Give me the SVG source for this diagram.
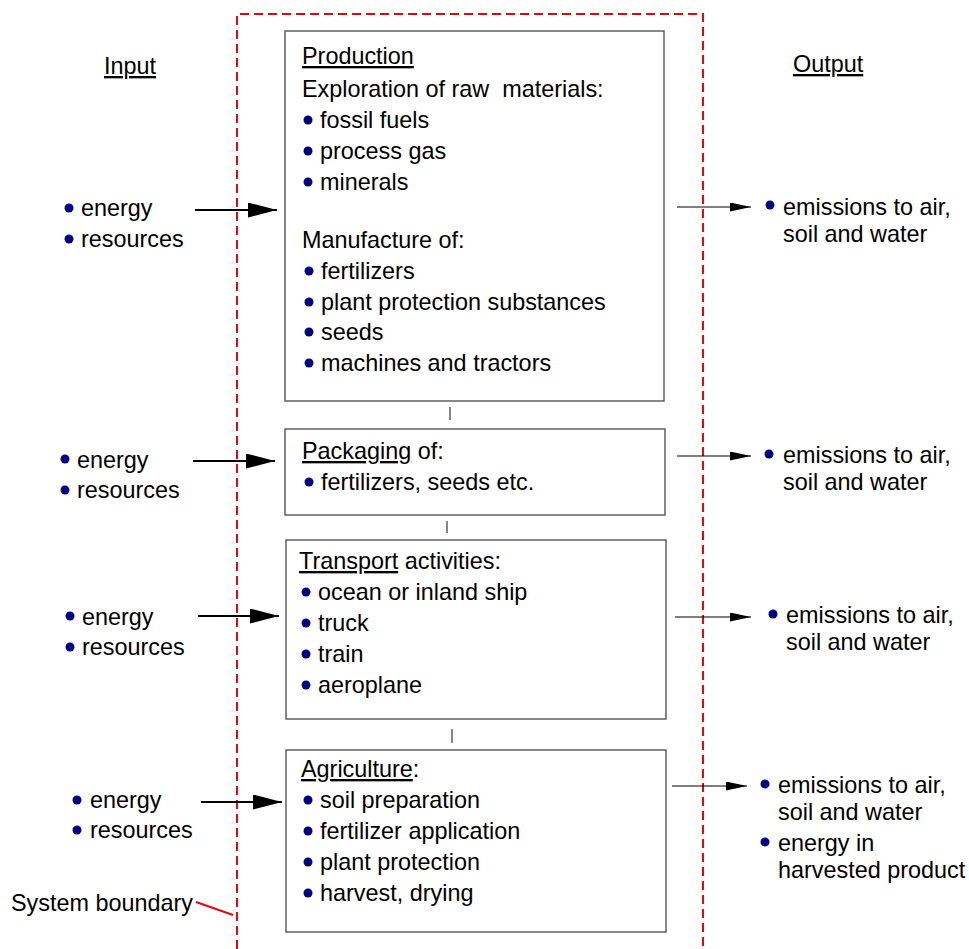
<svg xmlns="http://www.w3.org/2000/svg" width="969" height="949" viewBox="0 0 969 949">
<style>
text{font-family:"Liberation Sans",Arial,sans-serif;font-size:23.4px;fill:#000;white-space:pre}
.u{text-decoration:underline}
.box{fill:#fff;stroke:#555;stroke-width:1.4}
.b{fill:#000080}
.tick{stroke:#444;stroke-width:1.3}
.ain{stroke:#000;stroke-width:2.2;fill:none}
.aout{stroke:#000;stroke-width:1.2;fill:none}
.bound{fill:none;stroke:#e30613;stroke-width:2;stroke-dasharray:9 5}
</style>
<defs>
<marker id="big" viewBox="0 0 29 15" refX="29" refY="7.5" markerWidth="29" markerHeight="15" markerUnits="userSpaceOnUse" orient="auto"><path d="M0,0 L29,7.5 L0,15 z" fill="#000"/></marker>
<marker id="small" viewBox="0 0 21 9" refX="21" refY="4.5" markerWidth="21" markerHeight="9" markerUnits="userSpaceOnUse" orient="auto"><path d="M0,0 L21,4.5 L0,9 z" fill="#000"/></marker>
</defs>
<rect width="969" height="949" fill="#fff"/>

<g id="boundary">
<path class="bound" d="M237,949 V14 H703 V949"/>
<text x="11" y="911">System boundary</text>
<line x1="196" y1="902" x2="233" y2="915" stroke="#e30613" stroke-width="2"/>
</g>

<g id="headings">
<text x="104" y="74" class="u">Input</text>
<text x="793" y="72" class="u">Output</text>
</g>

<g id="production">
<rect class="box" x="285" y="31" width="379" height="370"/>
<text x="302" y="64" class="u">Production</text>
<text x="302" y="97">Exploration of raw  materials:</text>
<circle class="b" cx="308" cy="120" r="4.5"/><text x="320" y="128">fossil fuels</text>
<circle class="b" cx="308" cy="151" r="4.5"/><text x="320" y="159">process gas</text>
<circle class="b" cx="308" cy="182" r="4.5"/><text x="320" y="190">minerals</text>
<text x="302" y="248">Manufacture of:</text>
<circle class="b" cx="309" cy="271" r="4.5"/><text x="321" y="279">fertilizers</text>
<circle class="b" cx="309" cy="302" r="4.5"/><text x="321" y="310">plant protection substances</text>
<circle class="b" cx="309" cy="332" r="4.5"/><text x="321" y="340">seeds</text>
<circle class="b" cx="309" cy="363" r="4.5"/><text x="321" y="371">machines and tractors</text>
</g>

<g id="packaging">
<rect class="box" x="285" y="429" width="380" height="86"/>
<text x="302" y="459"><tspan class="u">Packaging</tspan> of:</text>
<circle class="b" cx="309" cy="482" r="4.5"/><text x="321" y="490">fertilizers, seeds etc.</text>
</g>

<g id="transport">
<rect class="box" x="286" y="540" width="380" height="179"/>
<text x="299" y="569"><tspan class="u">Transport</tspan> activities:</text>
<circle class="b" cx="306" cy="592" r="4.5"/><text x="318" y="600">ocean or inland ship</text>
<circle class="b" cx="306" cy="623" r="4.5"/><text x="318" y="631">truck</text>
<circle class="b" cx="306" cy="654" r="4.5"/><text x="318" y="662">train</text>
<circle class="b" cx="306" cy="685" r="4.5"/><text x="318" y="693">aeroplane</text>
</g>

<g id="agriculture">
<rect class="box" x="286" y="750" width="380" height="182"/>
<text x="301" y="777"><tspan class="u">Agriculture</tspan>:</text>
<circle class="b" cx="308" cy="800" r="4.5"/><text x="320" y="808">soil preparation</text>
<circle class="b" cx="308" cy="831" r="4.5"/><text x="320" y="839">fertilizer application</text>
<circle class="b" cx="308" cy="862" r="4.5"/><text x="320" y="870">plant protection</text>
<circle class="b" cx="308" cy="893" r="4.5"/><text x="320" y="901">harvest, drying</text>
</g>

<g id="inputs">
<circle class="b" cx="69" cy="208" r="4.5"/><text x="81" y="216">energy</text>
<circle class="b" cx="69" cy="239" r="4.5"/><text x="81" y="247">resources</text>
<circle class="b" cx="65" cy="459" r="4.5"/><text x="77" y="468">energy</text>
<circle class="b" cx="65" cy="490" r="4.5"/><text x="77" y="498">resources</text>
<circle class="b" cx="70" cy="616" r="4.5"/><text x="82" y="625">energy</text>
<circle class="b" cx="70" cy="647" r="4.5"/><text x="82" y="655">resources</text>
<circle class="b" cx="77" cy="800" r="4.5"/><text x="90" y="808">energy</text>
<circle class="b" cx="77" cy="830" r="4.5"/><text x="90" y="838">resources</text>
</g>

<g id="outputs">
<circle class="b" cx="770" cy="205" r="4.5"/><text x="783" y="215">emissions to air,</text>
<text x="783" y="242">soil and water</text>
<circle class="b" cx="769" cy="454" r="4.5"/><text x="783" y="463">emissions to air,</text>
<text x="783" y="490">soil and water</text>
<circle class="b" cx="773" cy="614" r="4.5"/><text x="786" y="623">emissions to air,</text>
<text x="786" y="650">soil and water</text>
<circle class="b" cx="765" cy="784" r="4.5"/><text x="778" y="793">emissions to air,</text>
<text x="778" y="820">soil and water</text>
<circle class="b" cx="765" cy="842" r="4.5"/><text x="778" y="851">energy in</text>
<text x="778" y="878">harvested product</text>
</g>

<g id="connectors">
<line class="ain" x1="195" y1="210" x2="277" y2="210" marker-end="url(#big)"/>
<line class="ain" x1="193" y1="461" x2="275" y2="461" marker-end="url(#big)"/>
<line class="ain" x1="198" y1="616" x2="279" y2="616" marker-end="url(#big)"/>
<line class="ain" x1="201" y1="802" x2="282" y2="802" marker-end="url(#big)"/>
<line class="aout" x1="677" y1="207" x2="751" y2="207" marker-end="url(#small)"/>
<line class="aout" x1="677" y1="456" x2="751" y2="456" marker-end="url(#small)"/>
<line class="aout" x1="675" y1="617" x2="751" y2="617" marker-end="url(#small)"/>
<line class="aout" x1="672" y1="786" x2="747" y2="786" marker-end="url(#small)"/>
<line class="tick" x1="450" y1="407" x2="450" y2="420"/>
<line class="tick" x1="447" y1="521" x2="447" y2="533"/>
<line class="tick" x1="452" y1="729" x2="452" y2="743"/>
</g>
</svg>
